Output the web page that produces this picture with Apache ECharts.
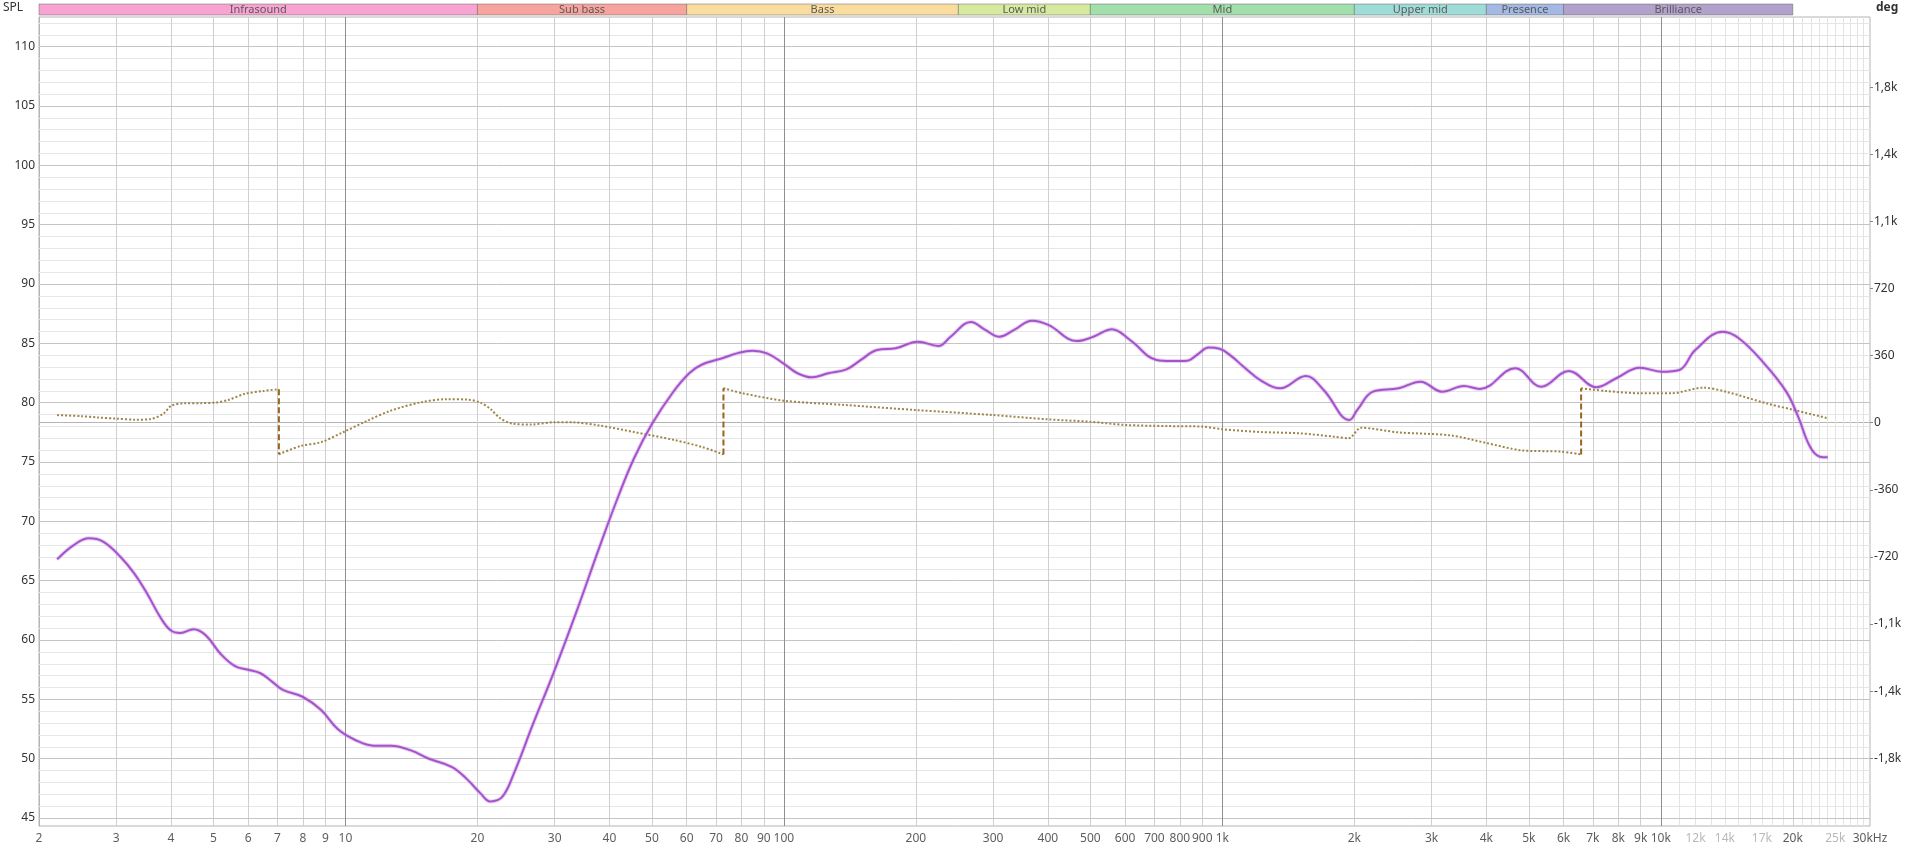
<!DOCTYPE html>
<html><head><meta charset="utf-8">
<script src="https://cdn.jsdelivr.net/npm/echarts@6/dist/echarts.min.js"></script>
<style>html,body{margin:0;padding:0;background:#fff}#c{width:1920px;height:850px}</style>
</head><body><div id="c"></div>
<script>
// ---------------- DATA ----------------
const splData = [
 [2.2,66.8],[2.4,68.0],[2.6,68.57],[2.8,68.3],[3.07,67.0],[3.3,65.6],[3.53,63.9],[3.8,61.8],[4.0,60.8],[4.2,60.6],
 [4.5,60.9],[4.8,60.4],[5.2,58.8],[5.6,57.8],[6.0,57.5],[6.4,57.2],[6.8,56.5],[7.2,55.8],[8.0,55.2],[8.8,54.1],
 [9.6,52.5],[10.5,51.6],[11.6,51.1],[12.7,51.1],[14.1,50.7],[15.5,50.0],[17.5,49.3],[18.9,48.3],[20.3,47.1],[21.4,46.4],
 [22.8,46.8],[24.3,48.9],[26.7,52.8],[29.8,57.2],[33.5,62.2],[38.1,68.0],[42,72.2],[45.5,75.3],[50,78.2],[55.9,80.9],
 [60.9,82.5],[64.9,83.2],[72.3,83.74],[78.8,84.2],[84.8,84.38],[91.5,84.16],[99.7,83.32],[107.4,82.48],[115.8,82.14],[126.2,82.48],
 [138.9,82.81],[149.8,83.6],[163.2,84.44],[179.8,84.58],[202.2,85.14],[225,84.78],[240,85.56],[267,86.8],[288,86.13],[310,85.56],
 [335,86.13],[368,86.91],[401,86.55],[466,85.2],[508,85.56],[560,86.19],[616,85.28],[708,83.6],[764,83.51],[832,83.54],
 [880,84.1],[930,84.65],[985,84.55],[1050,83.9],[1120,83.0],[1220,81.91],[1354,81.21],[1550,82.25],[1702,81.07],[1949,78.54],[2031,79.39],[2206,80.93],
 [2525,81.21],[2829,81.77],[3172,80.93],[3557,81.41],[3865,81.16],[4659,82.9],[5332,81.35],[6166,82.67],[7130,81.3],[7913,82.06],
 [8958,82.95],[10040,82.61],[11025,82.76],[11985,84.44],[13854,85.98],[15063,85.43],[17063,83.46],[19322,80.93],[20571,78.82],[21883,76.3],
 [23045,75.45],[24023,75.4]
];
const phaseSeg1 = [[2.2,41],[2.5,35],[2.73,28],[3.0,22],[3.32,16],[3.6,20],[3.85,50],[4.0,90],[4.28,104],[4.7,105],[5.05,108],[5.4,122],[5.9,155],[6.5,170],[7.05,180]];
const phaseSeg2 = [[7.05,-169],[7.9,-125],[8.8,-104],[9.9,-50],[11.2,10],[12.7,65],[14.9,110],[17,126],[19,124],[20.3,108],[21.5,70],[22.5,25],[24,-5],[26.5,-10],[30,3],[33,2],[38,-15],[45.5,-50],[56,-92],[65,-130],[72.8,-170]];
const phaseSeg3 = [[72.8,185],[80.5,158],[100,118],[137.8,95],[200,68],[300,41],[400,18],[500,5],[600,-12],[750,-18],[900,-21],[1000,-35],[1220,-50],[1502,-57],[1800,-75],[1940,-84],[2073,-27],[2525,-52],[3307,-68],[3988,-108],[4806,-148],[5915,-155],[6580,-170]];
const phaseSeg4 = [[6580,185],[7500,170],[8958,158],[10577,158],[12494,188],[14147,165],[17414,104],[20139,68],[24023,24]];

const bandNames = ['Infrasound','Sub bass','Bass','Low mid','Mid','Upper mid','Presence','Brilliance'];
const bandEdges = [2,20,60,250,500,2000,4000,6000,20000];

const xTickValues = [2,3,4,5,6,7,8,9,10,20,30,40,50,60,70,80,90,100,200,300,400,500,600,700,800,900,1000,2000,3000,4000,5000,6000,7000,8000,9000,10000,12000,14000,17000,20000,25000,30000];
const xTickTexts  = ['2','3','4','5','6','7','8','9','10','20','30','40','50','60','70','80','90','100','200','300','400','500','600','700','800','900','1k','2k','3k','4k','5k','6k','7k','8k','9k','10k','12k','14k','17k','20k','25k','30kHz'];
const xTickFaint  = [12000,14000,17000,25000];
const splTicks = [45,50,55,60,65,70,75,80,85,90,95,100,105,110];
const phaseTicks = [-1800,-1440,-1080,-720,-360,0,360,720,1080,1440,1800];

// ---------------- STYLE / LAYOUT ----------------
const bandColors = ['#f8a3d2','#f6a49d','#f9dc9e','#d7e99f','#a2dfaa','#a0dcd7','#a3b8e2','#b2a1cb'];
const X_MIN = 2, X_MAX = 30000;
const Y_MIN = 44.33, Y_MAX = 112.5;
const P_MIN = -2163.7, P_MAX = 2176.6;
const GL = 39, GW = 1831;
const FONT = 'Noto Sans';

const C_MAJOR = '#8f8f8f', C_NORM = '#cfcfcf', C_FINE = '#e3e3e3';
const vLines = [];
for (let d = 1; d <= 1000; d *= 10) {
  for (let k = (d === 1 ? 3 : 2); k <= 9; k++) vLines.push({ v: k * d, c: C_NORM });
  vLines.push({ v: 10 * d, c: C_MAJOR });
}
for (let k = 11; k <= 29; k++) vLines.push({ v: k * 1000, c: k === 20 ? C_NORM : C_FINE });
const hLines = [];
for (let v = 45; v <= 112; v++) hLines.push({ v: v, c: v % 5 === 0 ? '#c4c4c4' : '#e6e6e6' });

const gridMarkData = [];
hLines.filter(l => l.v % 5 !== 0).forEach(l => gridMarkData.push({ yAxis: l.v, lineStyle: { color: l.c } }));
vLines.filter(l => l.c === C_FINE).forEach(l => gridMarkData.push({ xAxis: l.v, lineStyle: { color: l.c } }));
vLines.filter(l => l.c === C_NORM).forEach(l => gridMarkData.push({ xAxis: l.v, lineStyle: { color: l.c } }));
hLines.filter(l => l.v % 5 === 0).forEach(l => gridMarkData.push({ yAxis: l.v, lineStyle: { color: l.c } }));
vLines.filter(l => l.c === C_MAJOR).forEach(l => gridMarkData.push({ xAxis: l.v, lineStyle: { color: l.c } }));

const bandAreas = bandNames.map((n, i) => [
  { name: n, xAxis: bandEdges[i], itemStyle: { color: bandColors[i], borderColor: 'rgba(90,90,90,0.45)', borderWidth: 1 } },
  { xAxis: bandEdges[i + 1] }
]);

const phaseSegs = [phaseSeg1, phaseSeg2, phaseSeg3, phaseSeg4];
const phaseColor = '#a0844a';
const series = [];
series.push({
  type: 'line', data: [], xAxisIndex: 0, yAxisIndex: 0, silent: true, z: 1,
  markLine: { z: 1, symbol: 'none', silent: true, animation: false, label: { show: false },
    lineStyle: { type: 'solid', width: 1 }, data: gridMarkData }
});
series.push({
  type: 'line', data: [], xAxisIndex: 1, yAxisIndex: 2, silent: true,
  markArea: { silent: true, label: { show: true, position: 'inside', color: '#5a5a5a', fontSize: 11, fontFamily: FONT }, data: bandAreas }
});
phaseSegs.forEach(seg => series.push({
  type: 'line', data: seg, xAxisIndex: 0, yAxisIndex: 1, smooth: 0.3, symbol: 'none', z: 3,
  lineStyle: { color: phaseColor, width: 2, type: [2, 2] }
}));
for (let i = 0; i < phaseSegs.length - 1; i++) {
  const a = phaseSegs[i][phaseSegs[i].length - 1], b = phaseSegs[i + 1][0];
  series.push({ type: 'line', data: [a, b], xAxisIndex: 0, yAxisIndex: 1, symbol: 'none', z: 3,
    lineStyle: { color: '#97671f', width: 2, type: [6, 3] } });
}
// soft halo under the SPL curve
series.push({
  type: 'line', data: splData, xAxisIndex: 0, yAxisIndex: 0, smooth: 0.4, symbol: 'none', z: 4, silent: true,
  lineStyle: { color: 'rgba(190,120,225,0.35)', width: 4 }
});
series.push({
  type: 'line', data: splData, xAxisIndex: 0, yAxisIndex: 0, smooth: 0.4, symbol: 'none', z: 5,
  lineStyle: { color: '#a653cb', width: 2 }
});
series.push({
  type: 'scatter', xAxisIndex: 0, yAxisIndex: 0, symbolSize: 1, clip: false, silent: true,
  itemStyle: { color: 'rgba(0,0,0,0)' },
  label: { show: true, position: 'bottom', distance: 6, fontSize: 12, fontFamily: FONT, color: '#333',
    formatter: p => xTickTexts[p.dataIndex] },
  data: xTickValues.map(v => ({ value: [v, Y_MIN], label: { color: xTickFaint.indexOf(v) >= 0 ? '#a8a8a8' : '#333' } }))
});

const phaseFmt = v => Math.abs(v) >= 1000 ? (v / 1000).toFixed(1).replace('.', ',') + 'k' : String(v);

const option = {
  animation: false,
  backgroundColor: '#fff',
  grid: [
    { left: GL, top: 17, width: GW, height: 809, show: true, borderColor: '#b4b4b4', borderWidth: 1, backgroundColor: '#fff' },
    { left: GL, top: 4, width: GW, height: 11 }
  ],
  xAxis: [
    { type: 'log', logBase: 10, min: X_MIN, max: X_MAX, gridIndex: 0, axisLabel: { show: false }, axisTick: { show: false }, splitLine: { show: false }, axisLine: { show: true, lineStyle: { color: '#b4b4b4' } } },
    { type: 'log', logBase: 10, min: X_MIN, max: X_MAX, gridIndex: 1, show: false }
  ],
  yAxis: [
    { type: 'value', min: Y_MIN, max: Y_MAX, gridIndex: 0, splitLine: { show: false }, axisTick: { show: false },
      axisLine: { show: true, lineStyle: { color: '#b4b4b4' } },
      axisLabel: { customValues: splTicks, margin: 4, color: '#333', fontSize: 12, fontFamily: FONT } },
    { type: 'value', position: 'right', min: P_MIN, max: P_MAX, gridIndex: 0, splitLine: { show: false },
      axisLine: { show: false },
      axisTick: { show: true, customValues: phaseTicks, length: 3, lineStyle: { color: '#888' } },
      axisLabel: { customValues: phaseTicks, margin: 4, color: '#333', fontSize: 12, fontFamily: FONT, formatter: phaseFmt } },
    { type: 'value', min: 0, max: 1, gridIndex: 1, show: false }
  ],
  graphic: [
    { type: 'text', left: 3, top: 2, style: { text: 'SPL', fontSize: 12, fontFamily: FONT, fill: '#333' } },
    { type: 'text', left: 1876, top: 2, style: { text: 'deg', fontSize: 12, fontWeight: 'bold', fontFamily: FONT, fill: '#333' } }
  ],
  series: series
};
const chart = echarts.init(document.getElementById('c'), null, { renderer: 'canvas' });
chart.setOption(option);
</script>
</body></html>
